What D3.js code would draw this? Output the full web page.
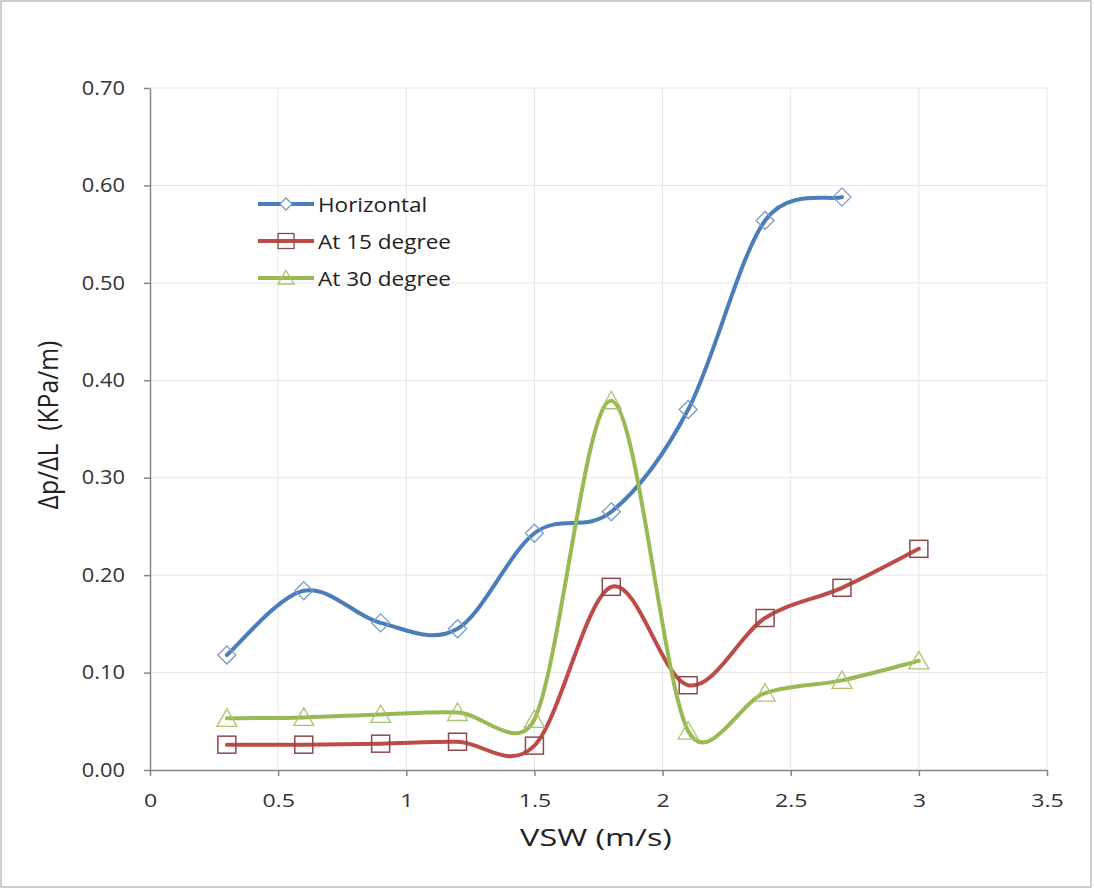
<!DOCTYPE html>
<html><head><meta charset="utf-8">
<script src="https://cdn.jsdelivr.net/npm/d3@7"></script>
<style>body{margin:0;background:#fff;} svg{display:block;font-family:"Open Sans","Liberation Sans",sans-serif;}</style>
</head><body>
<svg id="c" width="1094" height="890"></svg>
<script>
const xH = [0.3,0.6,0.9,1.2,1.5,1.8,2.1,2.4,2.7];
const yH = [0.118,0.184,0.151,0.145,0.243,0.265,0.370,0.564,0.588];
const x15 = [0.3,0.6,0.9,1.2,1.5,1.8,2.1,2.4,2.7,3.0];
const y15 = [0.026,0.026,0.027,0.029,0.025,0.188,0.087,0.156,0.187,0.227];
const x30 = [0.3,0.6,0.9,1.2,1.5,1.8,2.1,2.4,2.7,3.0];
const y30 = [0.053,0.054,0.057,0.059,0.052,0.379,0.040,0.079,0.092,0.112];
const seriesNames = ["Horizontal","At 15 degree","At 30 degree"];
const xTicks = [0,0.5,1,1.5,2,2.5,3,3.5];
const yTicks = [0,0.1,0.2,0.3,0.4,0.5,0.6,0.7];

const svg = d3.select("#c");
svg.append("rect").attr("x",1).attr("y",1).attr("width",1090).attr("height",886)
  .attr("fill","#fff").attr("stroke","#bfbfbf").attr("stroke-width",1.5);

const L=150,R=1047,T=88,B=770;
const x = d3.scaleLinear().domain([0,3.5]).range([L,R]);
const y = d3.scaleLinear().domain([0,0.7]).range([B,T]);

// grid
const g = svg.append("g");
g.selectAll(".gy").data(yTicks.slice(1)).join("line")
  .attr("x1",L).attr("x2",R).attr("y1",d=>y(d)).attr("y2",d=>y(d))
  .attr("stroke","#e6e6e6").attr("stroke-width",1);
g.selectAll(".gx").data(xTicks.slice(1)).join("line")
  .attr("y1",T).attr("y2",B).attr("x1",d=>x(d)).attr("x2",d=>x(d))
  .attr("stroke","#e6e6e6").attr("stroke-width",1);

// axes
const xa = svg.append("g").attr("transform",`translate(0,${B})`)
  .call(d3.axisBottom(x).tickValues(xTicks).tickFormat(d=>String(d)).tickSize(6).tickSizeOuter(0));
const ya = svg.append("g").attr("transform",`translate(${L},0)`)
  .call(d3.axisLeft(y).tickValues(yTicks).tickFormat(d3.format(".2f")).tickSize(6).tickSizeOuter(0));
[xa,ya].forEach(a=>{
  a.select(".domain").attr("stroke","#868686").attr("stroke-width",1.5);
  a.selectAll(".tick line").attr("stroke","#868686").attr("stroke-width",1.5);
  a.selectAll("text").attr("fill","#333").style("font-family","'Open Sans',sans-serif");
});
xa.selectAll("text").style("font-size","18.5px").attr("y",37).attr("dy",0).attr("transform","scale(1.25,1)");
ya.selectAll("text").style("font-size","19.5px").attr("x",-25/1.12).attr("transform","scale(1.12,1)");

svg.append("text").attr("transform","translate(596,846) scale(1.35,1)").attr("text-anchor","middle")
  .style("font-size","24px").attr("fill","#222").text("VSW (m/s)");
svg.append("text").attr("transform","translate(58,425) rotate(-90) scale(1.03,1.15)").attr("text-anchor","middle")
  .style("font-size","24px").style("white-space","pre").attr("fill","#222").text("Δp/ΔL  (KPa/m)");

const series = [
  {name:seriesNames[0], xs:xH, ys:yH, color:"#4a7ebb", mcol:"#7a9cc8", shape:"diamond"},
  {name:seriesNames[1], xs:x15, ys:y15, color:"#be4b48", mcol:"#8c4a4a", shape:"square"},
  {name:seriesNames[2], xs:x30, ys:y30, color:"#98b954", mcol:"#a9c46e", shape:"triangle"}
];

// Excel-style smoothing: Catmull-Rom arms (1/6) clamped to half the segment length
function excelSmooth(pts){
  const n = pts.length;
  let d = `M${pts[0][0]},${pts[0][1]}`;
  const clamp = (ax,ay,lim)=>{const l=Math.hypot(ax,ay); if(l>lim&&l>0){return [ax*lim/l, ay*lim/l];} return [ax,ay];};
  for(let i=0;i<n-1;i++){
    const p0 = pts[i-1]||pts[i], p1=pts[i], p2=pts[i+1], p3=pts[i+2]||pts[i+1];
    const d12 = Math.hypot(p2[0]-p1[0],p2[1]-p1[1]);
    const a1 = clamp((p2[0]-p0[0])/6,(p2[1]-p0[1])/6,d12/2);
    const a2 = clamp((p3[0]-p1[0])/6,(p3[1]-p1[1])/6,d12/2);
    d += `C${p1[0]+a1[0]},${p1[1]+a1[1]},${p2[0]-a2[0]},${p2[1]-a2[1]},${p2[0]},${p2[1]}`;
  }
  return d;
}

function marker(sel, shape, col){
  if(shape==="diamond"){
    sel.append("path").attr("d","M0,-9L9,0L0,9L-9,0Z").attr("fill","none").attr("stroke",col).attr("stroke-width",1.3);
  } else if(shape==="square"){
    sel.append("rect").attr("x",-9).attr("y",-8.5).attr("width",18).attr("height",17).attr("fill","none").attr("stroke",col).attr("stroke-width",1.5);
  } else {
    sel.append("path").attr("d","M0,-9.5L10,8L-10,8Z").attr("fill","none").attr("stroke",col).attr("stroke-width",1.3);
  }
}

series.forEach(s=>{
  const pts = s.xs.map((v,i)=>[x(v),y(s.ys[i])]);
  svg.append("path").attr("d",excelSmooth(pts)).attr("fill","none")
    .attr("stroke",s.color).attr("stroke-width",4).attr("stroke-linecap","round");
  pts.forEach(p=>{
    const m = svg.append("g").attr("transform",`translate(${p[0]},${p[1]})`);
    marker(m, s.shape, s.mcol);
  });
});

// legend
const lg = svg.append("g");
series.forEach((s,i)=>{
  const yy = 204 + i*37;
  lg.append("line").attr("x1",258).attr("x2",314).attr("y1",yy).attr("y2",yy)
    .attr("stroke",s.color).attr("stroke-width",4);
  const m = lg.append("g").attr("transform",`translate(286,${yy})`);
  if(s.shape==="diamond") m.append("path").attr("d","M0,-6L6,0L0,6L-6,0Z").attr("fill","#fff").attr("stroke",s.mcol).attr("stroke-width",1.3);
  else if(s.shape==="square") m.append("rect").attr("x",-8).attr("y",-7.5).attr("width",16).attr("height",15).attr("fill","none").attr("stroke",s.mcol).attr("stroke-width",1.3);
  else m.append("path").attr("d","M0,-7.5L8,6L-8,6Z").attr("fill","none").attr("stroke",s.mcol).attr("stroke-width",1.3);
  lg.append("text").attr("transform",`translate(318,${yy+8}) scale(1.1,1)`).style("font-size","20.5px").attr("fill","#222").text(s.name);
});
</script>
</body></html>
